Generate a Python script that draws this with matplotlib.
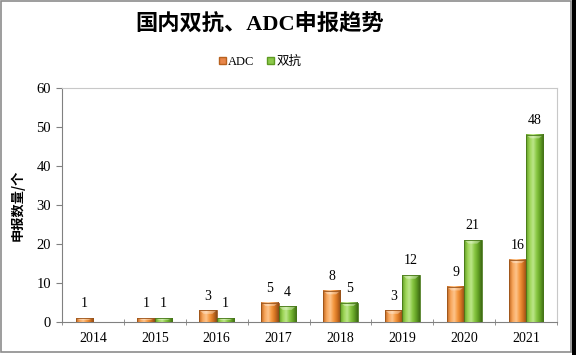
import matplotlib
matplotlib.use("Agg")
import matplotlib.pyplot as plt
import numpy as np
from matplotlib.colors import LinearSegmentedColormap
from matplotlib.patches import Rectangle, Patch

years = ["2014", "2015", "2016", "2017", "2018", "2019", "2020", "2021"]
adc = [1, 1, 3, 5, 8, 3, 9, 16]
bispecific = [0, 1, 1, 4, 5, 12, 21, 48]
series_names = ["ADC", "双抗"]
title = "国内双抗、ADC申报趋势"
ylabel = "申报数量/个"

serif = ["Liberation Serif", "Noto Sans CJK SC"]
plt.rcParams["font.family"] = serif

fig = plt.figure(figsize=(5.76, 3.55), dpi=100)
ax = fig.add_axes([62/576, 1 - 322/355, 495/576, (322-88)/355])

x = np.arange(len(years))
w = 0.28
orange_cm = LinearSegmentedColormap.from_list("o", ["#C0661F", "#F7A55A", "#FDC48C", "#F5983F", "#D0701F", "#8A4A18"])
green_cm = LinearSegmentedColormap.from_list("g", ["#609C22", "#9CD455", "#BCE689", "#88C642", "#62A024", "#3E6A14"])

b1 = ax.bar(x - w/2, adc, w, color="#F39A4A", zorder=2)
b2 = ax.bar(x + w/2, bispecific, w, color="#8CC94A", zorder=2)

grad = np.linspace(0, 1, 64).reshape(1, -1)
for bars, cm, vals in ((b1, orange_cm, adc), (b2, green_cm, bispecific)):
    for r, v in zip(bars, vals):
        if v <= 0:
            r.set_visible(False)
            continue
        x0, wd, h = r.get_x(), r.get_width(), r.get_height()
        ax.imshow(grad, cmap=cm, extent=[x0, x0 + wd, 0, h], aspect="auto", zorder=3, interpolation="bilinear")
        bev = min(0.9, h * 0.5)
        ax.fill([x0, x0 + wd, x0 + wd*0.75, x0 + wd*0.25], [h, h, h - bev, h - bev],
                color="white", alpha=0.35, zorder=4, lw=0)
        ax.add_patch(Rectangle((x0, 0), wd, h, fill=False, ec=cm(0.95), lw=0.6, zorder=5))
        ax.text(x0 + wd/2, h + 2.0, str(v), ha="center", va="bottom", fontsize=10, zorder=6)

ax.set_xlim(-0.5, len(years) - 0.5)
ax.set_ylim(0, 60)
ax.set_yticks(range(0, 61, 10))
ax.set_xticks(x)
ax.set_xticklabels(years, fontsize=10)
ax.set_xticks(np.arange(-0.5, len(years)), minor=True)
ax.tick_params(axis="x", which="major", length=0, pad=7)
ax.tick_params(axis="x", which="minor", length=4, direction="inout", color="#808080")
ax.tick_params(axis="y", labelsize=10.5, length=4, color="#808080", pad=4)
for s in ("left", "bottom"):
    ax.spines[s].set_color("#808080")
for s in ("top", "right"):
    ax.spines[s].set_color("#C8C8C8")
ax.set_ylabel(ylabel, fontsize=9.5, fontweight="bold", family=["Noto Sans CJK SC"])
ax.yaxis.set_label_coords((25 - 62) / 495, 0.5)

fig.text(260/576, 1 - 25/355, title, ha="center", va="center", fontsize=16, fontweight="bold")

handles = [Patch(facecolor="#E8864A", edgecolor="#B8621F"), Patch(facecolor="#8CC94A", edgecolor="#5E9A22")]
fig.legend(handles, series_names, loc="center", bbox_to_anchor=(260/576, 1 - 62/355), ncol=2,
           frameon=False, handlelength=0.55, handleheight=0.55, handletextpad=0.2,
           columnspacing=1.0, prop={"family": serif, "size": 9})

fig.patches.append(Rectangle((1/576, 3/355), 570/576, 351/355, transform=fig.transFigure,
                             fill=False, ec="#8C8C8C", lw=1.2))
fig.patches.append(Rectangle((572/576, 0), 4/576, 1, transform=fig.transFigure,
                             fc="black", ec="none"))

fig.savefig("out.png", dpi=100)
